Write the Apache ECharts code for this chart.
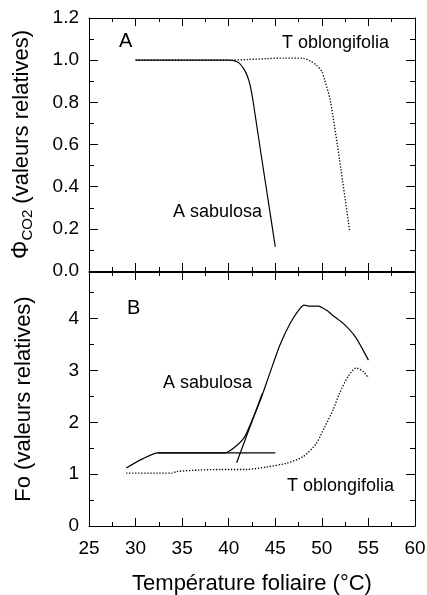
<!DOCTYPE html>
<html>
<head>
<meta charset="utf-8">
<script src="https://cdn.jsdelivr.net/npm/echarts@6/dist/echarts.min.js"></script>
<style>
  html, body { margin: 0; padding: 0; background: #fff; }
  #chart { width: 427px; height: 595px; }
</style>
</head>
<body>
<div id="chart"></div>
<script>
// Panel A: relative CO2 quantum yield vs leaf temperature
const tempA_sabulosa = [30, 35, 40, 41, 41.6, 42, 42.3, 42.6, 43.4, 44.2, 45];
const phiA_sabulosa  = [1.0, 1.0, 1.0, 0.99, 0.96, 0.925, 0.88, 0.81, 0.575, 0.345, 0.115];
const tempA_oblong   = [30, 35, 40, 42, 44, 46, 48, 48.8, 49.4, 50, 50.3, 50.9, 51.9, 53];
const phiA_oblong    = [1.0, 1.0, 1.0, 1.003, 1.007, 1.01, 1.009, 0.995, 0.977, 0.946, 0.906, 0.811, 0.527, 0.186];

// Panel B: relative Fo vs leaf temperature
const tempB_sabulosa = [29, 30.8, 32.4, 35, 39.6, 40.5, 41.6, 42.3, 43.4, 44.4, 45.5, 46.6, 47.5, 48.1, 48.7, 49.6, 50.5, 51.4, 52.3, 53.6, 55];
const foB_sabulosa   = [1.12, 1.30, 1.41, 1.41, 1.41, 1.50, 1.69, 1.95, 2.43, 2.94, 3.49, 3.91, 4.16, 4.26, 4.24, 4.24, 4.16, 4.03, 3.91, 3.65, 3.20];
const tempB_oblong   = [29, 33.9, 34.4, 36.9, 39.1, 41.9, 44.1, 46.2, 48.0, 49.4, 50.3, 51.2, 51.9, 52.8, 53.7, 54.5, 55];
const foB_oblong     = [1.02, 1.02, 1.05, 1.08, 1.09, 1.09, 1.14, 1.21, 1.34, 1.59, 1.91, 2.24, 2.56, 2.88, 3.05, 2.97, 2.85];

// Baseline and onset tangent used to read the critical temperature
const baselineTemp = [32.4, 45];
const baselineFo   = [1.41, 1.41];
const tangentTemp  = [40.85, 43.6];
const tangentFo    = [1.22, 2.55];

// Axis ticks
const xTicks = { min: 25, max: 60, step: 5 };
const yTicksA = { min: 0, max: 1.2, step: 0.2 };
const yTicksB = { min: 0, max: 4.9, step: 1 };

const pairs = (xs, ys) => xs.map((x, i) => [x, ys[i]]);

const FONT = 'Liberation Sans, Arial, sans-serif';
const black = '#000';

function xAxisDef(gridIndex, position, showLabels) {
  return {
    type: 'value', gridIndex, position,
    min: xTicks.min, max: xTicks.max, interval: xTicks.step,
    axisLine: { show: true, onZero: false, lineStyle: { color: black, width: 1 } },
    axisTick: { show: true, inside: true, length: 8, lineStyle: { color: black, width: 1, opacity: 1 } },
    minorTick: { show: true, splitNumber: 2, length: 4, lineStyle: { color: black, width: 1, opacity: 1 } },
    splitLine: { show: false },
    axisLabel: { show: showLabels, fontFamily: FONT, fontSize: 19, color: black, margin: 13 },
    name: showLabels ? 'Température foliaire (°C)' : '',
    nameLocation: 'middle', nameGap: 47,
    nameTextStyle: { fontFamily: FONT, fontSize: 22, color: black }
  };
}

function yAxisDef(gridIndex, position, ticks, showLabels, name, fmt) {
  return {
    type: 'value', gridIndex, position,
    min: ticks.min, max: ticks.max, interval: ticks.step,
    axisLine: { show: true, onZero: false, lineStyle: { color: black, width: 1 } },
    axisTick: { show: true, inside: true, length: 9, lineStyle: { color: black, width: 1, opacity: 1 } },
    minorTick: { show: true, splitNumber: 2, length: 5, lineStyle: { color: black, width: 1, opacity: 1 } },
    splitLine: { show: false },
    axisLabel: { show: showLabels, fontFamily: FONT, fontSize: 19, color: black, margin: 10,
                 showMaxLabel: true, formatter: fmt },
    name: showLabels ? name : '',
    nameLocation: 'middle', nameGap: 54, nameRotate: 90,
    nameTextStyle: {
      fontFamily: FONT, fontSize: 22, color: black,
      rich: {
        phi: { fontFamily: FONT, fontSize: 23, color: black },
        sub: { fontFamily: FONT, fontSize: 15, color: black, verticalAlign: 'bottom', padding: [12, 0, 0, 0] },
        t: { fontFamily: FONT, fontSize: 22, color: black }
      }
    }
  };
}

const solid = { color: black, width: 1.2, type: 'solid' };
const dotted = { color: black, width: 1.3, type: [1.3, 1.7] };

function line(name, xi, yi, data, style, smooth) {
  return {
    name, type: 'line', xAxisIndex: xi, yAxisIndex: yi,
    data, showSymbol: false, symbol: 'none', smooth: smooth,
    lineStyle: style, z: 3, animation: false
  };
}

const chart = echarts.init(document.getElementById('chart'), null, { renderer: 'canvas' });

chart.setOption({
  backgroundColor: '#fff',
  animation: false,
  grid: [
    { left: 89, top: 18, width: 326, height: 253, outerBoundsMode: 'none', containLabel: false },
    { left: 89, top: 272, width: 326, height: 254, outerBoundsMode: 'none', containLabel: false }
  ],
  xAxis: [
    xAxisDef(0, 'bottom', false),
    xAxisDef(0, 'top', false),
    xAxisDef(1, 'bottom', true),
    xAxisDef(1, 'top', false)
  ],
  yAxis: [
    yAxisDef(0, 'left', yTicksA, true, '{phi|Φ}{sub|CO2}{t| (valeurs relatives)}', v => v.toFixed(1)),
    yAxisDef(0, 'right', yTicksA, false, '', null),
    yAxisDef(1, 'left', yTicksB, true, 'Fo (valeurs relatives)', v => (Math.abs(v - Math.round(v)) < 1e-6 ? String(Math.round(v)) : '')),
    yAxisDef(1, 'right', yTicksB, false, '', null)
  ],
  series: [
    line('A sabulosa', 0, 0, pairs(tempA_sabulosa, phiA_sabulosa), solid, 0.25),
    line('T oblongifolia', 0, 0, pairs(tempA_oblong, phiA_oblong), dotted, 0.25),
    line('A sabulosa', 2, 2, pairs(tempB_sabulosa, foB_sabulosa), solid, 0.25),
    line('T oblongifolia', 2, 2, pairs(tempB_oblong, foB_oblong), dotted, 0.25),
    line('baseline', 2, 2, pairs(baselineTemp, baselineFo), solid, false),
    line('tangent', 2, 2, pairs(tangentTemp, tangentFo), solid, false)
  ],
  graphic: [
    { type: 'text', left: 119, top: 31, style: { text: 'A', font: '20px ' + FONT, fill: black } },
    { type: 'text', left: 127, top: 298, style: { text: 'B', font: '20px ' + FONT, fill: black } },
    { type: 'text', left: 282, top: 34, style: { text: 'T oblongifolia', font: '18px ' + FONT, fill: black } },
    { type: 'text', left: 173, top: 203, style: { text: 'A sabulosa', font: '18px ' + FONT, fill: black } },
    { type: 'text', left: 163, top: 374, style: { text: 'A sabulosa', font: '18px ' + FONT, fill: black } },
    { type: 'text', left: 287, top: 477, style: { text: 'T oblongifolia', font: '18px ' + FONT, fill: black } }
  ]
});
</script>
</body>
</html>
